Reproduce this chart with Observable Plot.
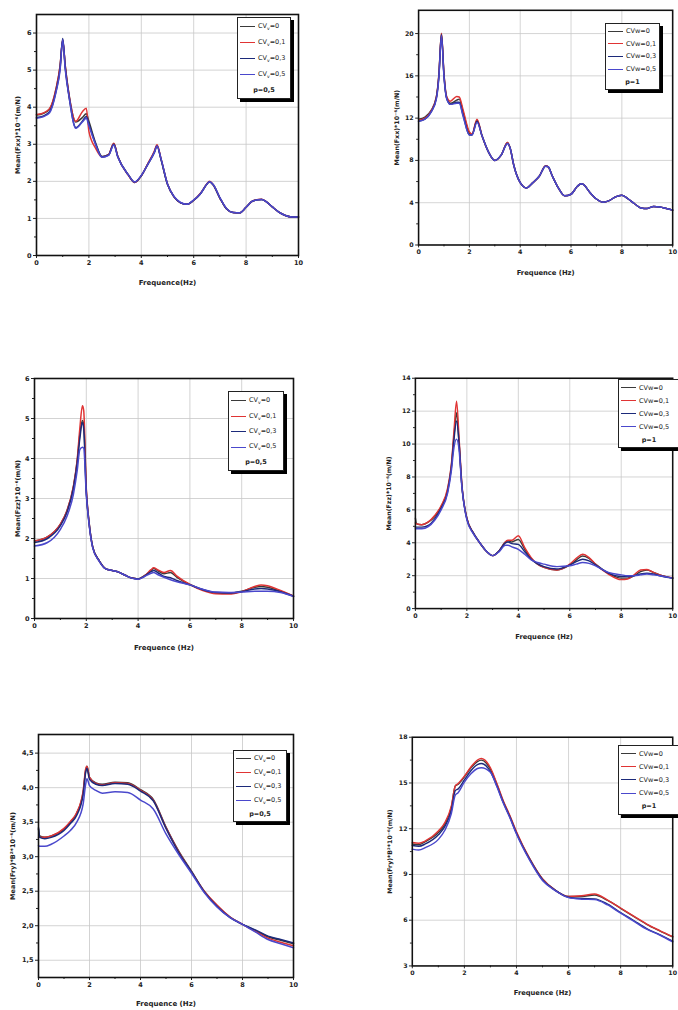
<!DOCTYPE html>
<html>
<head>
<meta charset="utf-8">
<script src="https://cdn.jsdelivr.net/npm/d3@7"></script>
<script src="https://cdn.jsdelivr.net/npm/@observablehq/plot@0.6"></script>
<style>
  html, body { margin: 0; padding: 0; background: #fff; }
  #page { position: relative; width: 678px; height: 1010px; overflow: hidden; background: #fff; font-family: "DejaVu Sans", sans-serif; }
  .panel { position: absolute; }
  .panel svg { overflow: visible; background: transparent; }
  .legend { position: absolute; background: #fff; border: 1px solid #222; box-shadow: 3px 3px 0 #000;
            display: flex; flex-direction: column; justify-content: space-around; padding: 1px 2px; box-sizing: border-box;
            font-size: 6.5px; color: #222; white-space: nowrap; }
  .legend .row { display: flex; align-items: center; }
  .legend .sw { display: inline-block; width: 15px; height: 0; border-top: 1.6px solid; margin-right: 3px; }
  .legend .p { text-align: center; font-weight: bold; }
  .legend sub { font-size: 4.5px; }
</style>
</head>
<body>
<div id="page"></div>
<script>
// ---------- data ----------
const seriesNames = ["CV=0", "CV=0,1", "CV=0,3", "CV=0,5"];
const seriesColors = ["#3a3a3a", "#e03434", "#1c2a7a", "#4a48cc"];
const xTicks = [0, 2, 4, 6, 8, 10];

// Panel 1: Mean(Fxx), p=0,5
const p1x    = [0,0.25,0.5,0.75,0.9,1.0,1.1,1.25,1.5,1.75,1.9,2.0,2.25,2.5,2.75,2.95,3.1,3.5,3.75,4.0,4.25,4.5,4.6,4.75,5.0,5.25,5.5,5.75,6.0,6.25,6.5,6.6,6.75,7.0,7.25,7.5,7.75,8.0,8.25,8.6,8.75,9.0,9.25,9.5,9.75,10];
const p1cv0  = [3.79,3.83,3.95,4.5,5.1,5.8,5.1,4.3,3.6,3.72,3.82,3.62,3.05,2.67,2.72,3.02,2.68,2.18,1.97,2.15,2.47,2.8,2.97,2.6,1.92,1.58,1.42,1.38,1.49,1.66,1.92,1.99,1.9,1.55,1.26,1.16,1.15,1.3,1.47,1.51,1.46,1.31,1.17,1.08,1.04,1.04];
const p1cv01 = [3.8,3.84,3.96,4.52,5.12,5.82,5.1,4.3,3.62,3.88,3.97,3.35,2.9,2.66,2.72,3.03,2.68,2.17,1.97,2.15,2.48,2.82,2.99,2.62,1.93,1.58,1.42,1.38,1.49,1.67,1.93,2.0,1.9,1.55,1.26,1.16,1.15,1.3,1.47,1.52,1.46,1.31,1.17,1.08,1.04,1.04];
const p1cv03 = [3.72,3.76,3.88,4.45,5.05,5.85,5.05,4.25,3.45,3.62,3.75,3.55,3.02,2.66,2.71,3.0,2.67,2.18,1.98,2.15,2.46,2.78,2.95,2.6,1.92,1.58,1.42,1.38,1.49,1.66,1.92,1.99,1.9,1.55,1.26,1.16,1.15,1.3,1.47,1.51,1.46,1.31,1.17,1.08,1.04,1.04];
const p1cv05 = [3.7,3.74,3.85,4.42,5.0,5.82,5.0,4.25,3.43,3.6,3.7,3.5,3.0,2.65,2.7,2.98,2.66,2.18,1.98,2.16,2.46,2.78,2.95,2.62,1.93,1.59,1.43,1.38,1.5,1.66,1.92,1.99,1.91,1.56,1.27,1.16,1.15,1.3,1.47,1.51,1.46,1.31,1.17,1.08,1.04,1.04];

// Panel 2: Mean(Fxx), p=1
const p2x    = [0,0.25,0.5,0.7,0.8,0.9,1.0,1.1,1.25,1.5,1.6,1.75,2.0,2.1,2.3,2.5,2.75,3.0,3.25,3.5,3.6,3.75,4.0,4.25,4.5,4.75,5.0,5.1,5.25,5.5,5.75,6.0,6.25,6.4,6.5,6.75,7.0,7.25,7.5,7.75,8.0,8.25,8.5,8.75,9.0,9.25,9.5,9.75,10];
const p2cv0  = [11.9,12.1,12.75,14.0,16.1,20.0,16.1,14.0,13.4,13.7,13.8,12.6,10.6,10.45,11.8,10.3,8.8,8.0,8.5,9.7,9.2,7.55,5.9,5.4,5.9,6.5,7.5,7.4,6.6,5.4,4.65,4.8,5.55,5.8,5.7,4.95,4.35,4.05,4.2,4.55,4.7,4.35,3.9,3.5,3.45,3.65,3.6,3.45,3.3];
const p2cv01 = [11.8,12.0,12.7,14.0,16.2,20.0,16.2,14.1,13.6,14.05,14.0,12.8,10.7,10.5,11.9,10.3,8.8,8.0,8.5,9.7,9.2,7.5,5.9,5.4,5.9,6.5,7.5,7.4,6.6,5.4,4.65,4.8,5.55,5.8,5.7,4.95,4.35,4.05,4.2,4.55,4.7,4.35,3.9,3.5,3.45,3.65,3.6,3.45,3.3];
const p2cv03 = [11.7,11.9,12.6,13.9,16.0,19.9,16.0,13.9,13.3,13.5,13.5,12.3,10.4,10.4,11.7,10.3,8.8,8.0,8.5,9.6,9.2,7.5,5.9,5.4,5.9,6.5,7.45,7.4,6.6,5.4,4.65,4.8,5.55,5.8,5.7,4.95,4.35,4.05,4.2,4.55,4.7,4.35,3.9,3.5,3.45,3.65,3.6,3.45,3.3];
const p2cv05 = [11.7,11.9,12.6,13.8,15.9,19.8,15.9,13.9,13.3,13.4,13.4,12.2,10.4,10.4,11.6,10.3,8.8,8.0,8.5,9.6,9.2,7.5,5.9,5.4,5.9,6.5,7.45,7.4,6.6,5.4,4.65,4.8,5.55,5.8,5.7,4.95,4.35,4.05,4.2,4.55,4.7,4.35,3.9,3.5,3.45,3.65,3.6,3.45,3.3];

// Panel 3: Mean(Fzz), p=0,5
const p3x    = [0,0.5,1.0,1.25,1.5,1.65,1.75,1.85,1.9,2.0,2.1,2.25,2.5,2.75,3.0,3.25,3.5,3.75,4.0,4.25,4.5,4.6,4.75,5.0,5.25,5.5,6.0,6.5,7.0,7.5,8.0,8.5,8.75,9.0,9.5,10];
const p3cv0  = [1.94,2.04,2.36,2.69,3.28,3.94,4.6,4.95,4.85,3.2,2.45,1.78,1.44,1.24,1.2,1.16,1.08,1.01,0.99,1.07,1.2,1.25,1.2,1.12,1.15,1.03,0.85,0.72,0.64,0.63,0.68,0.78,0.8,0.78,0.68,0.56];
const p3cv01 = [1.94,2.04,2.36,2.69,3.3,3.98,4.75,5.32,5.2,3.25,2.45,1.78,1.44,1.24,1.2,1.16,1.08,1.01,0.99,1.07,1.22,1.27,1.22,1.15,1.2,1.06,0.85,0.7,0.62,0.61,0.67,0.8,0.84,0.82,0.7,0.56];
const p3cv03 = [1.9,2.0,2.32,2.65,3.25,3.9,4.5,4.9,4.75,3.15,2.42,1.78,1.44,1.24,1.2,1.16,1.08,1.01,0.99,1.06,1.17,1.2,1.15,1.05,1.02,0.95,0.84,0.72,0.65,0.64,0.67,0.74,0.75,0.74,0.67,0.56];
const p3cv05 = [1.81,1.9,2.23,2.55,3.1,3.7,4.22,4.28,4.26,3.1,2.4,1.76,1.43,1.24,1.2,1.16,1.08,1.01,0.98,1.05,1.13,1.15,1.1,1.03,0.97,0.92,0.84,0.73,0.66,0.65,0.66,0.68,0.68,0.68,0.65,0.55];

// Panel 4: Mean(Fzz), p=1
const p4x    = [0,0.05,0.25,0.5,0.75,1.0,1.25,1.4,1.5,1.6,1.7,1.8,2.0,2.25,2.5,2.75,3.0,3.25,3.5,3.6,3.75,4.0,4.25,4.5,4.75,5.0,5.5,6.0,6.25,6.5,6.75,7.0,7.5,8.0,8.25,8.5,8.75,9.0,9.25,9.5,10];
const p4cv0  = [5.5,5.15,5.1,5.25,5.6,6.2,7.2,8.7,10.5,11.9,10.0,7.6,5.5,4.6,4.0,3.5,3.22,3.5,4.05,4.12,4.05,4.2,3.6,3.05,2.7,2.5,2.35,2.65,2.95,3.2,3.05,2.7,2.15,1.85,1.85,2.0,2.25,2.35,2.2,2.05,1.85];
const p4cv01 = [5.2,5.15,5.1,5.27,5.66,6.25,7.3,8.8,10.8,12.6,10.3,7.7,5.5,4.6,4.0,3.5,3.22,3.5,4.05,4.15,4.15,4.43,3.7,3.1,2.7,2.5,2.35,2.7,3.05,3.3,3.1,2.7,2.1,1.76,1.8,2.05,2.35,2.38,2.2,2.05,1.87];
const p4cv03 = [4.95,4.95,4.95,5.05,5.45,6.1,7.1,8.6,10.3,11.4,10.0,7.6,5.45,4.6,4.0,3.5,3.22,3.5,4.0,4.05,3.95,3.9,3.45,3.0,2.72,2.55,2.4,2.65,2.85,3.0,2.9,2.65,2.15,1.95,1.95,2.0,2.1,2.15,2.1,2.0,1.85];
const p4cv05 = [4.85,4.85,4.85,4.98,5.37,6.0,7.0,8.4,9.8,10.3,9.6,7.5,5.4,4.55,4.0,3.5,3.22,3.45,3.85,3.85,3.75,3.6,3.3,2.96,2.8,2.7,2.55,2.6,2.7,2.8,2.75,2.6,2.2,2.05,2.0,2.0,2.05,2.1,2.05,2.0,1.85];

// Panel 5: Mean(Fry), p=0,5
const p5x    = [0,0.05,0.25,0.5,1.0,1.25,1.5,1.75,1.85,1.9,2.0,2.25,2.5,3.0,3.5,4.0,4.5,5.0,5.5,6.0,6.5,7.0,7.5,8.0,8.5,9.0,9.5,10];
const p5cv0  = [3.4,3.3,3.28,3.3,3.4,3.5,3.63,3.93,4.25,4.31,4.15,4.07,4.05,4.08,4.07,3.97,3.83,3.43,3.08,2.79,2.5,2.29,2.13,2.02,1.93,1.84,1.79,1.74];
const p5cv01 = [3.28,3.28,3.28,3.3,3.41,3.51,3.64,3.95,4.27,4.31,4.15,4.06,4.04,4.07,4.06,3.96,3.82,3.42,3.07,2.78,2.5,2.3,2.13,2.02,1.92,1.82,1.76,1.71];
const p5cv03 = [3.42,3.28,3.26,3.28,3.38,3.48,3.6,3.9,4.22,4.28,4.12,4.05,4.03,4.06,4.05,3.95,3.81,3.41,3.06,2.78,2.49,2.28,2.12,2.02,1.94,1.85,1.8,1.75];
const p5cv05 = [3.16,3.15,3.15,3.18,3.3,3.38,3.5,3.76,4.05,4.13,4.03,3.96,3.92,3.94,3.93,3.82,3.69,3.33,3.03,2.76,2.48,2.27,2.12,2.02,1.91,1.8,1.74,1.68];

// Panel 6: Mean(Fry), p=1
const p6x    = [0,0.25,0.5,1.0,1.25,1.5,1.65,1.75,2.0,2.25,2.5,2.65,3.0,3.25,3.5,3.75,4.0,4.5,5.0,5.5,6.0,6.5,7.0,7.5,8.0,8.5,9.0,9.5,10];
const p6cv0  = [11.0,10.95,11.15,11.75,12.3,13.4,14.8,14.9,15.4,16.0,16.4,16.5,15.9,14.9,13.75,12.8,11.75,10.05,8.7,7.95,7.55,7.55,7.65,7.3,6.78,6.25,5.73,5.3,4.9];
const p6cv01 = [11.1,11.05,11.2,11.85,12.4,13.5,14.8,14.95,15.45,16.05,16.5,16.6,16.0,14.95,13.8,12.85,11.8,10.05,8.7,7.95,7.55,7.6,7.72,7.32,6.8,6.27,5.75,5.32,4.92];
const p6cv03 = [10.9,10.85,11.0,11.6,12.15,13.2,14.5,14.6,15.2,15.8,16.2,16.28,15.75,14.8,13.7,12.75,11.7,10.0,8.65,7.95,7.5,7.42,7.4,7.05,6.5,5.98,5.45,5.05,4.62];
const p6cv05 = [10.66,10.6,10.76,11.3,11.9,13.0,14.2,14.35,15.06,15.6,15.95,16.0,15.7,14.75,13.65,12.7,11.65,9.95,8.6,7.93,7.48,7.38,7.35,7.0,6.46,5.94,5.41,5.03,4.57];

// axis tick values and labels
const p1yTicks = [0,1,2,3,4,5,6];
const p2yTicks = [0,4,8,12,16,20];
const p3yTicks = [0,1,2,3,4,5,6];
const p4yTicks = [0,2,4,6,8,10,12,14];
const p5yTicks = [1.5,2.0,2.5,3.0,3.5,4.0,4.5];
const p6yTicks = [3,6,9,12,15,18];

const yLabelFxx = "Mean(Fxx)*10⁻⁶(m/N)";
const yLabelFzz = "Mean(Fzz)*10⁻⁶(m/N)";
const yLabelFry = "Mean(Fry)*B²*10⁻⁶(m/N)";
const legendLeft  = ["CV<sub>v</sub>=0", "CV<sub>v</sub>=0,1", "CV<sub>v</sub>=0,3", "CV<sub>v</sub>=0,5"];
const legendRight = ["CVw=0", "CVw=0,1", "CVw=0,3", "CVw=0,5"];

// ---------- drawing ----------
const page = document.getElementById("page");
const ML = 30, MT = 6, MR = 6, MB = 40;

function panel(cfg) {
  const [fl, fr, ft, fb] = cfg.frame;
  const rows = [];
  cfg.ys.forEach((arr, i) => arr.forEach((v, j) => rows.push({s: seriesNames[i], x: cfg.x[j], y: v})));
  const fmt = cfg.comma ? (d => d.toFixed(1).replace(".", ",")) : (d => String(d));
  const yMinor = [];
  for (let k = 0; k < cfg.yTicks.length - 1; k++) yMinor.push((cfg.yTicks[k] + cfg.yTicks[k+1]) / 2);
  const plot = Plot.plot({
    width: (fr - fl) + ML + MR,
    height: (fb - ft) + MT + MB,
    marginLeft: ML, marginRight: MR, marginTop: MT, marginBottom: MB,
    style: {fontFamily: "DejaVu Sans", fontSize: "6.5px", background: "transparent", color: "#222", overflow: "visible"},
    x: {domain: [0, 10], label: null},
    y: {domain: cfg.yDomain, label: null},
    color: {domain: seriesNames, range: seriesColors},
    marks: [
      Plot.gridX(xTicks, {stroke: "#c8c8c8", strokeOpacity: 1, strokeWidth: 0.8}),
      Plot.gridY(cfg.yTicks, {stroke: "#c8c8c8", strokeOpacity: 1, strokeWidth: 0.8}),
      Plot.axisX(xTicks, {tickSize: 3, tickPadding: 2, fontWeight: "bold", label: null}),
      Plot.axisX([1,3,5,7,9], {tickSize: 2, tickFormat: () => "", label: null}),
      Plot.axisY(cfg.yTicks, {tickSize: 3, tickPadding: 2, fontWeight: "bold", tickFormat: fmt, label: null}),
      Plot.axisY(yMinor, {tickSize: 2, tickFormat: () => "", label: null}),
      Plot.line(rows, {x: "x", y: "y", z: "s", stroke: "s", curve: "monotone-x", strokeWidth: 1.5}),
      Plot.frame({stroke: "#111", strokeWidth: 1.6}),
      Plot.text([cfg.xlabel], {frameAnchor: "bottom", dy: cfg.xdy, text: d => d, fontWeight: "bold", fontSize: 7, lineAnchor: "middle"}),
      Plot.text([cfg.ylabel], {frameAnchor: "left", dx: cfg.ydx, text: d => d, rotate: -90, textAnchor: "middle", lineAnchor: "middle", fontWeight: "bold", fontSize: 6.5})
    ]
  });
  const wrap = document.createElement("div");
  wrap.className = "panel";
  wrap.style.left = (fl - ML) + "px";
  wrap.style.top = (ft - MT) + "px";
  wrap.appendChild(plot);
  page.appendChild(wrap);

  const [ll, lt, lw, lh] = cfg.legend;
  const lg = document.createElement("div");
  lg.className = "legend";
  lg.style.left = ll + "px"; lg.style.top = lt + "px";
  lg.style.width = lw + "px"; lg.style.height = lh + "px";
  cfg.legendLabels.forEach((t, i) => {
    const r = document.createElement("div");
    r.className = "row";
    r.innerHTML = `<span class="sw" style="border-color:${seriesColors[i]}"></span><span>${t}</span>`;
    lg.appendChild(r);
  });
  const p = document.createElement("div");
  p.className = "row p";
  p.style.justifyContent = "center";
  p.textContent = cfg.pLabel;
  lg.appendChild(p);
  page.appendChild(lg);
}

panel({x: p1x, ys: [p1cv0, p1cv01, p1cv03, p1cv05], frame: [36, 298, 14, 255], yDomain: [0, 6.5], yTicks: p1yTicks,
  xlabel: "Frequence(Hz)", ylabel: yLabelFxx, xdy: 27, ydx: -19, legend: [237, 17, 54, 82], legendLabels: legendLeft, pLabel: "p=0,5"});
panel({x: p2x, ys: [p2cv0, p2cv01, p2cv03, p2cv05], frame: [419, 681, 10, 252], yDomain: [0, 22.2], yTicks: p2yTicks,
  xlabel: "Frequence (Hz)", ylabel: yLabelFxx, xdy: 29, ydx: -22, legend: [605, 23, 55, 67], legendLabels: legendRight, pLabel: "p=1"});
panel({x: p3x, ys: [p3cv0, p3cv01, p3cv03, p3cv05], frame: [34, 293, 378, 618], yDomain: [0, 6], yTicks: p3yTicks,
  xlabel: "Frequence (Hz)", ylabel: yLabelFzz, xdy: 29, ydx: -17, legend: [228, 391, 56, 80], legendLabels: legendLeft, pLabel: "p=0,5"});
panel({x: p4x, ys: [p4cv0, p4cv01, p4cv03, p4cv05], frame: [416, 683, 378, 617], yDomain: [0, 14], yTicks: p4yTicks,
  xlabel: "Frequence (Hz)", ylabel: yLabelFzz, xdy: 29, ydx: -27, legend: [618, 379, 62, 69], legendLabels: legendRight, pLabel: "p=1"});
panel({x: p5x, ys: [p5cv0, p5cv01, p5cv03, p5cv05], frame: [38, 293, 734, 977], yDomain: [1.25, 4.77], yTicks: p5yTicks, comma: true,
  xlabel: "Frequence (Hz)", ylabel: yLabelFry, xdy: 26, ydx: -26, legend: [233, 750, 54, 72], legendLabels: legendLeft, pLabel: "p=0,5"});
panel({x: p6x, ys: [p6cv0, p6cv01, p6cv03, p6cv05], frame: [413, 684, 737, 975], yDomain: [3, 18], yTicks: p6yTicks,
  xlabel: "Frequence (Hz)", ylabel: yLabelFry, xdy: 28, ydx: -23, legend: [618, 745, 62, 70], legendLabels: legendRight, pLabel: "p=1"});
</script>
</body>
</html>
